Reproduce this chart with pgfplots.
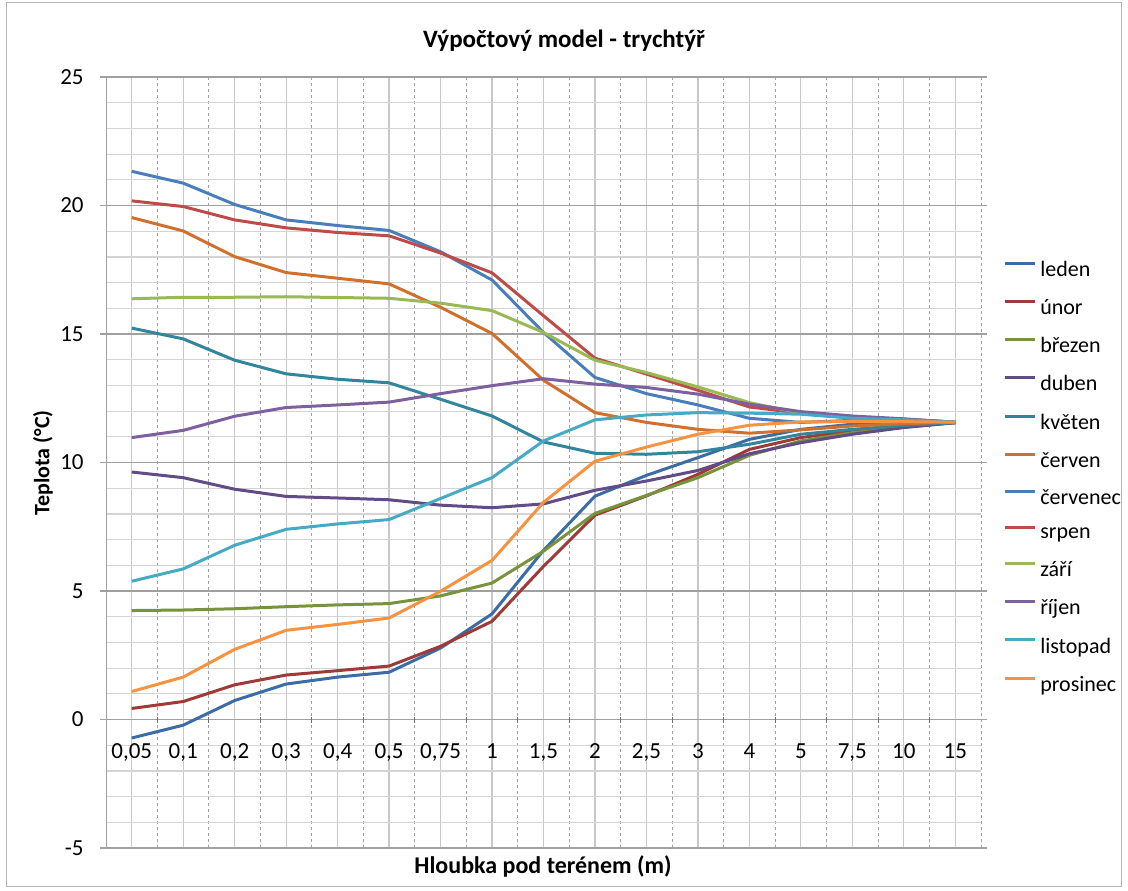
\documentclass[border=0pt]{standalone}
\usepackage{fontspec}
\setmainfont{Carlito}
\usepackage{pgfplots}
\pgfplotsset{compat=1.18}
\usepackage{pgfplotstable}

\definecolor{cLeden}{RGB}{60,108,165}
\definecolor{cUnor}{RGB}{158,58,55}
\definecolor{cBrezen}{RGB}{119,147,60}
\definecolor{cDuben}{RGB}{98,76,135}
\definecolor{cKveten}{RGB}{49,133,156}
\definecolor{cCerven}{RGB}{208,112,45}
\definecolor{cCervenec}{RGB}{74,126,187}
\definecolor{cSrpen}{RGB}{190,75,72}
\definecolor{cZari}{RGB}{152,185,84}
\definecolor{cRijen}{RGB}{125,96,160}
\definecolor{cListopad}{RGB}{70,170,197}
\definecolor{cProsinec}{RGB}{246,146,64}
\definecolor{griddark}{RGB}{160,160,160}
\definecolor{gridlight}{RGB}{212,212,212}
\definecolor{catline}{RGB}{200,200,200}

\pgfplotstableread{
x leden unor brezen duben kveten cerven cervenec srpen zari rijen listopad prosinec
0 -0.72 0.43 4.24 9.63 15.23 19.53 21.33 20.18 16.37 10.97 5.38 1.09
1 -0.22 0.70 4.26 9.41 14.81 19.01 20.87 19.96 16.43 11.25 5.86 1.65
2 0.74 1.35 4.31 8.96 13.98 18.01 20.04 19.44 16.43 11.80 6.78 2.73
3 1.38 1.73 4.39 8.68 13.45 17.39 19.44 19.13 16.45 12.14 7.40 3.47
4 1.65 1.90 4.46 8.62 13.24 17.17 19.22 18.95 16.42 12.24 7.61 3.70
5 1.84 2.08 4.51 8.55 13.10 16.95 19.03 18.82 16.39 12.35 7.78 3.95
6 2.78 2.85 4.81 8.34 12.46 16.04 18.20 18.15 16.20 12.68 8.60 4.99
7 4.11 3.82 5.31 8.24 11.81 15.02 17.10 17.38 15.91 12.99 9.41 6.19
8 6.58 5.96 6.55 8.39 10.80 13.20 15.06 15.71 15.06 13.26 10.84 8.45
9 8.69 7.95 8.02 8.92 10.36 11.94 13.31 14.06 13.98 13.05 11.66 10.05
10 9.50 8.70 8.72 9.28 10.32 11.56 12.68 13.44 13.50 12.92 11.85 10.60
11 10.19 9.54 9.41 9.69 10.42 11.29 12.24 12.81 12.94 12.66 11.94 11.10
12 10.90 10.51 10.28 10.34 10.71 11.14 11.72 12.16 12.33 12.27 11.92 11.45
13 11.29 10.97 10.84 10.77 11.10 11.27 11.56 11.92 11.92 11.98 11.88 11.58
14 11.49 11.23 11.16 11.10 11.29 11.42 11.64 11.77 11.77 11.81 11.72 11.59
15 11.51 11.40 11.37 11.36 11.44 11.51 11.63 11.68 11.68 11.70 11.66 11.59
16 11.55 11.55 11.55 11.55 11.55 11.57 11.57 11.57 11.57 11.57 11.57 11.57
}\data

\begin{document}
\begin{tikzpicture}
\useasboundingbox (-53pt,-21pt) rectangle (511pt,424pt);
\draw[griddark!80, line width=0.5pt] (-49.5pt,-19pt) rectangle (507.5pt,422.5pt);
\begin{axis}[
  at={(0pt,0pt)}, anchor=south west,
  scale only axis, width=437.5pt, height=385.5pt,
  xmin=-0.5, xmax=16.5, ymin=-5, ymax=25,
  xtick={0,...,16},
  xticklabels={{0,05},{0,1},{0,2},{0,3},{0,4},{0,5},{0,75},{1},{1,5},{2},{2,5},{3},{4},{5},{7,5},{10},{15}},
  minor xtick={-0.5,0.5,...,16.5},
  ytick={-5,0,...,25},
  minor ytick={-4,...,24},
  grid=both,
  major x grid style={color=catline, line width=0.6pt},
  minor x grid style={color=griddark, dash pattern=on 1.5pt off 1.5pt, line width=0.5pt},
  major y grid style={color=griddark, line width=0.7pt},
  minor y grid style={color=gridlight, line width=0.6pt},
  axis line style={draw=none},
  tick align=outside,
  major tick length=3pt, minor tick length=0pt,
  xtick style={draw=none},
  ytick style={draw=griddark, line width=0.7pt},
  /pgf/number format/assume math mode=true,
  tick label style={font=\fontsize{11.5}{13}\selectfont},
  xticklabel style={anchor=base, yshift=48pt},
  yticklabel style={anchor=east, inner sep=0pt, xshift=-8pt},
  no markers,
  every axis plot/.append style={line width=1.5pt, line join=round},
  legend style={at={(axis description cs:1.025,0.767)}, anchor=north west, draw=none, fill=none,
    inner sep=0pt, row sep=6pt, font=\fontsize{11}{13}\selectfont},
  legend cell align=left,
  legend image code/.code={\draw[#1] (0pt,3.5pt) -- (15pt,3.5pt);},
]
\addplot[cLeden] table[x=x,y=leden]{\data}; \addlegendentry{leden}
\addplot[cUnor] table[x=x,y=unor]{\data}; \addlegendentry{únor}
\addplot[cBrezen] table[x=x,y=brezen]{\data}; \addlegendentry{březen}
\addplot[cDuben] table[x=x,y=duben]{\data}; \addlegendentry{duben}
\addplot[cKveten] table[x=x,y=kveten]{\data}; \addlegendentry{květen}
\addplot[cCerven] table[x=x,y=cerven]{\data}; \addlegendentry{červen}
\addplot[cCervenec] table[x=x,y=cervenec]{\data}; \addlegendentry{červenec}
\addplot[cSrpen] table[x=x,y=srpen]{\data}; \addlegendentry{srpen}
\addplot[cZari] table[x=x,y=zari]{\data}; \addlegendentry{září}
\addplot[cRijen] table[x=x,y=rijen]{\data}; \addlegendentry{říjen}
\addplot[cListopad] table[x=x,y=listopad]{\data}; \addlegendentry{listopad}
\addplot[cProsinec] table[x=x,y=prosinec]{\data}; \addlegendentry{prosinec}
\draw[griddark, line width=0.7pt] (rel axis cs:0,0) -- (rel axis cs:0,1);
\pgfplotsinvokeforeach{0.5,1.5,...,15.5}{\draw[griddark!70!black, line width=0.5pt] ([yshift=-1.5pt]axis cs:#1,0) -- ([yshift=1.5pt]axis cs:#1,0);}
\end{axis}
\node[font=\bfseries\fontsize{12.5}{15}\selectfont] at (229pt,403.5pt) {Výpočtový model - trychtýř};
\node[font=\bfseries\fontsize{12}{14}\selectfont] at (218.5pt,-9pt) {Hloubka pod terénem (m)};
\node[font=\bfseries\fontsize{11}{13}\selectfont, rotate=90] at (-31.5pt,192.5pt) {Teplota (°C)};
\end{tikzpicture}
\end{document}
